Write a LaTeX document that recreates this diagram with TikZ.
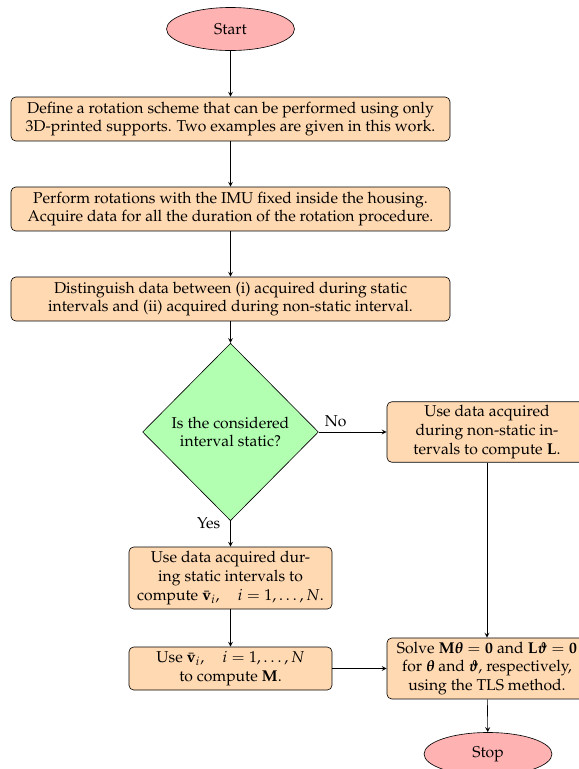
\documentclass[tikz,border=0pt]{standalone}
\usepackage[T1]{fontenc}
\usepackage{mathpazo}
\usepackage{amsmath}
\usetikzlibrary{shapes.geometric}

\tikzset{
  startstop/.style={ellipse, draw, fill=red!30, minimum width=81.5pt, minimum height=27.4pt},
  process/.style={rectangle, rounded corners=3pt, draw, fill=orange!30, align=center, inner sep=2pt},
  decision/.style={diamond, draw, fill=green!30, align=center, inner sep=0pt, minimum width=112pt, minimum height=113pt},
}

\begin{document}
\begin{tikzpicture}[x=0.637pt, y=-0.637pt]
\useasboundingbox (0,0) rectangle (579,769);

\node (start) at (230.5,29) [startstop] {Start};
\node (define) at (230.5,119) [process, minimum width=279.6pt, minimum height=28pt]
  {Define a rotation scheme that can be performed using only\\3D-printed supports. Two examples are given in this work.};
\node (perform) at (230.5,209) [process, minimum width=279.6pt, minimum height=28pt]
  {Perform rotations with the IMU fixed inside the housing.\\Acquire data for all the duration of the rotation procedure.};
\node (distinguish) at (230.5,299) [process, minimum width=279.6pt, minimum height=28pt]
  {Distinguish data between (i) acquired during static\\intervals and (ii) acquired during non-static interval.};
\node (decide) at (230.5,432) [decision] {Is the considered\\interval static?};
\node (nonstatic) at (487,432) [process, minimum width=127.4pt, minimum height=38.5pt]
  {Use data acquired\\during non-static in-\\tervals to compute $\mathbf{L}$.};
\node (static) at (230.5,578) [process, minimum width=129.3pt, minimum height=39.5pt]
  {Use data acquired dur-\\ing static intervals to\\compute $\bar{\mathbf{v}}_i,\quad i=1,\ldots,N$.};
\node (usev) at (230.5,668.5) [process, minimum width=129.3pt, minimum height=27.4pt]
  {Use $\bar{\mathbf{v}}_i,\quad i = 1,\ldots,N$\\to compute $\mathbf{M}$.};
\node (solve) at (487,668.5) [process, minimum width=127.4pt, minimum height=38.8pt]
  {Solve $\mathbf{M}\boldsymbol{\theta}=\mathbf{0}$ and $\mathbf{L}\boldsymbol{\vartheta}=\mathbf{0}$\\for $\boldsymbol{\theta}$ and $\boldsymbol{\vartheta}$, respectively,\\using the TLS method.};
\node (stop) at (488,754) [startstop] {Stop};

\begin{scope}[->, >=stealth]
\draw (start) -- (define);
\draw (define) -- (perform);
\draw (perform) -- (distinguish);
\draw (distinguish) -- (decide);
\draw (decide) -- node[near start, above] {No} (nonstatic);
\draw (decide) -- node[pos=0.1, left, xshift=-3pt] {Yes} (static);
\draw (static) -- (usev);
\draw (usev) -- (solve);
\draw (nonstatic) -- (solve);
\draw (solve) -- (stop);
\end{scope}
\end{tikzpicture}
\end{document}
